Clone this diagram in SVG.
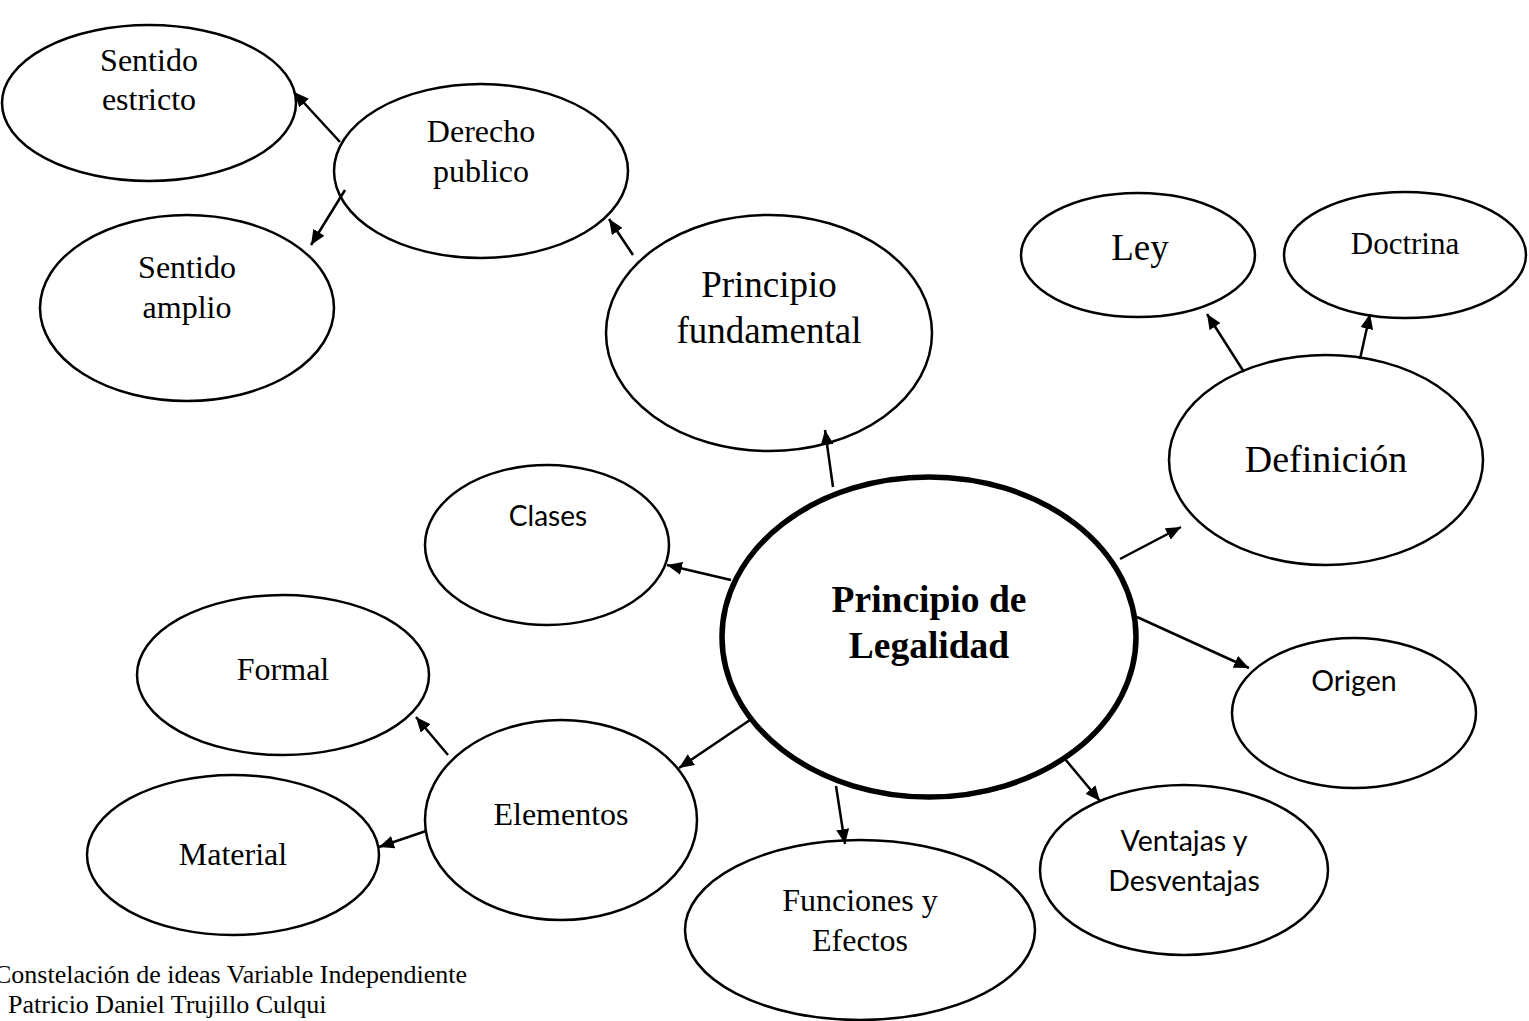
<svg xmlns="http://www.w3.org/2000/svg" width="1529" height="1021" viewBox="0 0 1529 1021">
<style>
.n{fill:#fff;stroke:#000;stroke-width:2.5}
.c{fill:#fff;stroke:#000;stroke-width:5.5}
.s{font-family:"Liberation Serif","Times New Roman",serif;fill:#000;text-anchor:middle}
.k{font-family:Lato,"Open Sans",sans-serif;fill:#000;text-anchor:middle}
.e{stroke:#000;stroke-width:2.5;fill:none;marker-end:url(#ah)}
</style>
<defs>
<marker id="ah" viewBox="0 0 15 13" refX="15" refY="6.5" markerWidth="15" markerHeight="13" markerUnits="userSpaceOnUse" orient="auto">
<path d="M0,0 L15,6.5 L0,13 z" fill="#000"/>
</marker>
</defs>
<rect width="1529" height="1021" fill="#fff"/>
<g id="n-estricto"><ellipse class="n" cx="149" cy="103" rx="147" ry="78"/><text class="s" x="149" y="71" font-size="32">Sentido</text><text class="s" x="149" y="110" font-size="32">estricto</text></g>
<g id="n-derecho"><ellipse class="n" cx="481" cy="171" rx="147" ry="87"/><text class="s" x="481" y="142" font-size="32">Derecho</text><text class="s" x="481" y="182" font-size="32">publico</text></g>
<g id="n-amplio"><ellipse class="n" cx="187" cy="308" rx="147" ry="93"/><text class="s" x="187" y="278" font-size="32">Sentido</text><text class="s" x="187" y="318" font-size="32">amplio</text></g>
<g id="n-fundamental"><ellipse class="n" cx="769" cy="333" rx="163" ry="118"/><text class="s" x="769" y="297" font-size="37">Principio</text><text class="s" x="769" y="343" font-size="37">fundamental</text></g>
<g id="n-ley"><ellipse class="n" cx="1138" cy="255" rx="117" ry="62"/><text class="s" x="1140" y="260" font-size="37">Ley</text></g>
<g id="n-doctrina"><ellipse class="n" cx="1405" cy="255" rx="121" ry="63"/><text class="s" x="1405" y="254" font-size="31">Doctrina</text></g>
<g id="n-definicion"><ellipse class="n" cx="1326" cy="460" rx="157" ry="105"/><text class="s" x="1326" y="472" font-size="38">Definición</text></g>
<g id="n-clases"><ellipse class="n" cx="547" cy="545" rx="122" ry="80"/><text class="k" x="548" y="526" font-size="28">Clases</text></g>
<g id="n-central"><ellipse class="c" cx="929" cy="637" rx="207" ry="160"/><text class="s" x="929" y="612" font-size="37.5" font-weight="bold">Principio de</text><text class="s" x="929" y="658" font-size="37.5" font-weight="bold">Legalidad</text></g>
<g id="n-formal"><ellipse class="n" cx="283" cy="675" rx="146" ry="80"/><text class="s" x="283" y="680" font-size="32">Formal</text></g>
<g id="n-origen"><ellipse class="n" cx="1354" cy="713" rx="122" ry="75"/><text class="k" x="1354" y="691" font-size="28.5">Origen</text></g>
<g id="n-elementos"><ellipse class="n" cx="561" cy="820" rx="136" ry="100"/><text class="s" x="561" y="825" font-size="32">Elementos</text></g>
<g id="n-material"><ellipse class="n" cx="233" cy="855" rx="146" ry="80"/><text class="s" x="233" y="865" font-size="32">Material</text></g>
<g id="n-ventajas"><ellipse class="n" cx="1184" cy="870" rx="144" ry="85"/><text class="k" x="1184" y="851" font-size="28.5">Ventajas y</text><text class="k" x="1184" y="891" font-size="28.5">Desventajas</text></g>
<g id="n-funciones"><ellipse class="n" cx="860" cy="930" rx="175" ry="90"/><text class="s" x="860" y="911" font-size="32">Funciones y</text><text class="s" x="860" y="951" font-size="32">Efectos</text></g>
<g id="edges">
<line class="e" x1="340" y1="142" x2="294" y2="92"/>
<line class="e" x1="345" y1="190" x2="311" y2="245"/>
<line class="e" x1="633" y1="255" x2="609" y2="219"/>
<line class="e" x1="833" y1="487" x2="825" y2="430"/>
<line class="e" x1="731" y1="580" x2="667" y2="565"/>
<line class="e" x1="1120" y1="559" x2="1181" y2="527"/>
<line class="e" x1="1244" y1="372" x2="1207" y2="314"/>
<line class="e" x1="1360" y1="359" x2="1370" y2="314"/>
<line class="e" x1="1137" y1="617" x2="1249" y2="668"/>
<line class="e" x1="1065" y1="759" x2="1100" y2="801"/>
<line class="e" x1="836" y1="786" x2="845" y2="844"/>
<line class="e" x1="750" y1="720" x2="679" y2="768"/>
<line class="e" x1="448" y1="755" x2="416" y2="717"/>
<line class="e" x1="426" y1="831" x2="379" y2="847"/>
</g>
<text class="s" x="-6" y="983" font-size="26" style="text-anchor:start">Constelación de ideas Variable Independiente</text>
<text class="s" x="8" y="1013" font-size="26" style="text-anchor:start">Patricio Daniel Trujillo Culqui</text>
</svg>
